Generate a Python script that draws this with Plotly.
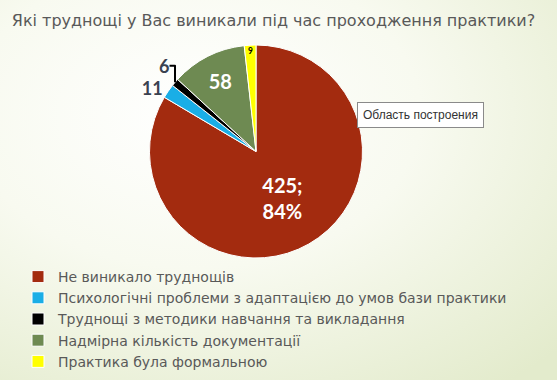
import plotly.graph_objects as go
import base64

categories = ["Не виникало труднощів",
              "Психологічні проблеми з адаптацією до умов бази практики",
              "Труднощі з методики навчання та викладання",
              "Надмірна кількість документації",
              "Практика була формальною"]
values = [425, 11, 6, 58, 9]
percent_label = "84%"
colors = ["#A32B0F", "#1AAEE6", "#000000", "#6E8A52", "#FFFF00"]
title = "Які труднощі у Вас виникали під час проходження практики?"

texts = [f"<b>{values[0]};<br>{percent_label}</b>"] + [f"<b>{v}</b>" for v in values[1:]]
positions = ["inside", "outside", "outside", "inside", "inside"]
fontcolors = ["white", "#3A4250", "#3A4250", "white", "black"]

svg = ('<svg xmlns="http://www.w3.org/2000/svg" width="557" height="380">'
       '<defs><radialGradient id="g" cx="0.35" cy="0.3" r="0.9">'
       '<stop offset="0" stop-color="#ffffff"/><stop offset="0.45" stop-color="#f8faf0"/>'
       '<stop offset="1" stop-color="#e3ebcc"/></radialGradient></defs>'
       '<rect width="557" height="380" fill="url(#g)"/></svg>')
bg = "data:image/svg+xml;base64," + base64.b64encode(svg.encode()).decode()

fig = go.Figure(go.Pie(
    labels=categories, values=values, text=texts, texttemplate="%{text}",
    textposition=positions, sort=False, direction="clockwise", rotation=0,
    marker=dict(colors=colors, line=dict(color="white", width=1)),
    insidetextfont=dict(family="Lato", size=20, color=fontcolors),
    outsidetextfont=dict(family="Lato", size=18, color=fontcolors),
    insidetextorientation="horizontal",
    domain=dict(x=[149.5/557, 362.5/557], y=[1-258/380, 1-45/380]),
    hoverinfo="none"
))

fig.update_layout(
    width=557, height=380, margin=dict(l=0, r=0, t=0, b=0),
    paper_bgcolor="#f3f6e9", plot_bgcolor="rgba(0,0,0,0)",
    title=dict(text=title, x=0.5 - 5/557, xanchor="center", y=1-20/380, yanchor="middle",
               font=dict(family="DejaVu Sans", size=16, color="#595959")),
    legend=dict(x=18/557, y=1-261/380, xanchor="left", yanchor="top",
                font=dict(family="DejaVu Sans", size=14, color="#595959"),
                bgcolor="rgba(0,0,0,0)", tracegroupgap=0, itemwidth=30),
    images=[dict(source=bg, xref="paper", yref="paper", x=0, y=1, sizex=1, sizey=1,
                 sizing="stretch", layer="below", xanchor="left", yanchor="top")],
    annotations=[dict(text="Область построения", x=420/557, y=1-115/380, xref="paper", yref="paper",
                      xanchor="center", yanchor="middle",
                      showarrow=False, font=dict(family="Liberation Sans", size=12, color="#333333"),
                      bgcolor="white", bordercolor="#8a8a8a", borderwidth=1, borderpad=5)]
)

fig.write_html("out.html", config={"displayModeBar": False},
               post_script="document.body.style.margin='0';")
